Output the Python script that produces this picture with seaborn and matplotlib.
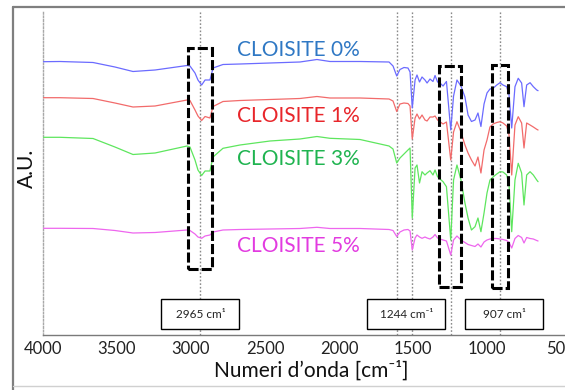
import matplotlib
matplotlib.use("Agg")
import matplotlib.pyplot as plt
import matplotlib.patches as mpatches
import matplotlib.lines as mlines
from matplotlib.ticker import MultipleLocator, FixedLocator
import numpy as np
import pandas as pd
import seaborn as sns

# ---------------- data ----------------
wavenumber = [4000, 3885, 3662, 3514, 3392, 3243, 3027, 3007, 2973, 2953,
              2928, 2905, 2872, 2851, 2784, 2669, 2466, 2264, 2149, 2061,
              1858, 1662, 1635, 1610, 1588, 1561, 1534, 1520, 1505, 1486,
              1473, 1456, 1439, 1419, 1405, 1385, 1365, 1351, 1334, 1318,
              1297, 1274, 1245, 1226, 1203, 1176, 1149, 1128, 1105, 1081,
              1061, 1041, 1020, 1000, 980, 959, 934, 912, 892, 867,
              851, 833, 811, 789, 766, 750, 732, 709, 687, 664, 655]

cloisite_0 = [27.33, 27.35, 27.25, 26.8, 26.35, 26.5, 26.95, 26.9, 26.2, 25.5,
              25.0, 25.5, 25.5, 26.7, 27.05, 27.1, 27.2, 27.3, 27.55, 27.35,
              27.35, 27.3, 26.9, 25.9, 26.55, 26.75, 26.7, 26.3, 22.7, 25.5,
              26.0, 25.3, 25.8, 25.5, 25.2, 25.6, 25.35, 25.95, 25.3, 25.2,
              24.9, 25.35, 20.5, 23.9, 25.5, 24.9, 23.8, 22.0, 21.35, 21.5,
              22.2, 20.85, 23.1, 24.2, 24.6, 24.67, 25.0, 25.23, 25.0, 24.83,
              24.0, 20.7, 24.83, 25.67, 25.2, 22.83, 25.0, 25.23, 24.83, 24.5, 24.43]

cloisite_1 = [23.73, 23.73, 23.65, 23.2, 22.8, 22.9, 23.5, 23.45, 22.5, 21.9,
              21.45, 21.85, 21.7, 22.85, 23.35, 23.45, 23.55, 23.65, 23.85, 23.7,
              23.7, 23.6, 23.4, 22.35, 23.1, 23.2, 23.15, 22.9, 19.6, 21.7,
              22.1, 21.6, 22.0, 21.5, 21.4, 21.8, 21.8, 21.9, 21.5, 21.33,
              21.1, 21.3, 17.5, 20.3, 21.33, 20.3, 19.0, 18.2, 17.5, 16.9,
              17.8, 16.2, 18.5, 19.5, 20.8, 21.1, 21.25, 21.33, 21.2, 20.9,
              20.0, 16.0, 21.0, 21.83, 21.2, 18.7, 21.2, 21.0, 20.8, 20.57, 20.5]

cloisite_3 = [19.77, 19.77, 19.65, 18.8, 18.05, 18.2, 18.9, 18.8, 17.5, 16.5,
              15.95, 16.4, 16.4, 17.8, 18.67, 19.0, 19.4, 19.6, 19.85, 19.67,
              19.55, 18.9, 18.6, 17.2, 17.7, 18.1, 18.5, 18.7, 11.7, 16.7,
              17.0, 15.2, 16.33, 16.0, 16.2, 16.43, 16.0, 16.5, 15.83, 15.6,
              15.33, 14.83, 9.5, 15.5, 17.0, 15.5, 13.2, 11.7, 10.5, 10.83,
              11.7, 10.33, 12.2, 14.2, 15.5, 15.8, 16.1, 16.33, 16.3, 16.0,
              15.0, 10.33, 15.5, 17.17, 16.2, 13.0, 16.0, 16.33, 16.0, 15.5, 15.33]

cloisite_5 = [10.67, 10.67, 10.65, 10.45, 10.2, 10.25, 10.5, 10.45, 10.1, 9.8,
              9.67, 9.9, 10.0, 10.3, 10.5, 10.55, 10.6, 10.65, 10.77, 10.65,
              10.65, 10.55, 10.45, 9.85, 10.3, 10.5, 10.55, 10.4, 8.5, 9.7,
              10.0, 9.8, 9.67, 9.8, 9.7, 9.6, 9.8, 10.05, 9.7, 9.6,
              9.5, 9.4, 8.0, 9.5, 9.9, 9.5, 9.25, 9.05, 8.95, 8.85,
              9.1, 8.8, 9.3, 9.5, 9.6, 9.65, 9.65, 9.6, 9.55, 9.45,
              9.25, 8.7, 9.65, 9.95, 9.75, 9.2, 9.75, 9.65, 9.6, 9.45, 9.4]

series_names = ["CLOISITE 0%", "CLOISITE 1%", "CLOISITE 3%", "CLOISITE 5%"]
line_colors = ["#6b6bff", "#f26b6b", "#5ee65e", "#ee66ee"]
label_colors = ["#2f78c4", "#e8262b", "#1fb450", "#e23be0"]
label_y = [28.5, 21.9, 17.6, 8.9]

x_ticks = [4000, 3500, 3000, 2500, 2000, 1500, 1000, 500]
ref_lines = [2939, 1610, 1505, 1245, 912]
# dashed highlight boxes: (wn_left, wn_right, au_bottom, au_top)
hl_boxes = [(3020, 2858, 6.6, 28.7), (1322, 1176, 4.77, 26.9), (968, 856, 4.7, 27.0)]
peak_labels = ["2965 cm\u00b9", "1244 cm\u207b\u00b9", "907 cm\u00b9"]
peak_label_x = [2936, 1544, 885]

# ---------------- figure ----------------
sns.set_theme(style="white")
plt.rcParams["font.family"] = ["Lato", "DejaVu Sans"]

W, H = 565, 390
fig = plt.figure(figsize=(W / 100, H / 100), dpi=100)
ax_l, ax_r, ax_t, ax_b = 43, 568.4, 10, 335
ax = fig.add_axes([ax_l / W, 1 - ax_b / H, (ax_r - ax_l) / W, (ax_b - ax_t) / H])

df = pd.concat([
    pd.DataFrame({"wn": wavenumber, "au": vals, "series": name})
    for name, vals in zip(series_names, [cloisite_0, cloisite_1, cloisite_3, cloisite_5])
])
sns.lineplot(data=df, x="wn", y="au", hue="series", palette=line_colors,
             sort=False, estimator=None, linewidth=0.9, legend=False, ax=ax, zorder=3)

ax.set_xlim(4000, 450)
ax.set_ylim(0, 32.5)

# reference dotted lines
for v in ref_lines:
    ax.axvline(v, color="#8a8a8a", lw=1.0, ls=(0, (1.2, 1.4)), zorder=2)

# dashed highlight boxes
for (x0, x1, y0, y1) in hl_boxes:
    ax.add_patch(mpatches.Rectangle((x0, y0), x1 - x0, y1 - y0, fill=False,
                                    edgecolor="black", lw=2.2,
                                    ls=(0, (3.3, 1.0)), zorder=4))

# peak label boxes
for txt, xc in zip(peak_labels, peak_label_x):
    w = 527
    ax.add_patch(mpatches.Rectangle((xc + w / 2, 0.6), -w, 2.97, facecolor="white",
                                    edgecolor="black", lw=1.0, zorder=5))
    ax.text(xc, 2.08, txt, ha="center", va="center", fontsize=8.5,
            color="#222222", zorder=6)

# series labels
for name, c, yv in zip(series_names, label_colors, label_y):
    ax.text(1860, yv, name, ha="right", va="center", fontsize=15, color=c, zorder=6)

# axes styling
for s in ["top", "right"]:
    ax.spines[s].set_visible(False)
ax.spines["left"].set_color("#a8a8a8")
ax.spines["left"].set_linewidth(1.0)
ax.spines["left"].set_linestyle((0, (1.2, 1.4)))
ax.spines["bottom"].set_color("#7a7a7a")
ax.spines["bottom"].set_linewidth(1.0)

ax.xaxis.set_major_locator(FixedLocator(x_ticks))
ax.set_xticklabels([str(t) for t in x_ticks])
ax.xaxis.set_minor_locator(MultipleLocator(100))
ax.tick_params(axis="x", which="both", direction="in", length=2.5, width=0.8,
               color="#7a7a7a", labelsize=12, pad=4, labelcolor="#222222")
ax.yaxis.set_major_locator(FixedLocator([0.9 + 3.25 * k for k in range(10)]))
ax.tick_params(axis="y", which="both", direction="in", length=2.5, width=0.6,
               color="#a8a8a8", labelleft=False)
ax.set_xlabel("")
ax.set_ylabel("")

fig.text(311 / W, 1 - 371 / H, "Numeri d\u2019onda [cm\u207b\u00b9]", ha="center",
         va="center", fontsize=15, color="#111111")
fig.text(27 / W, 1 - 168 / H, "A.U.", rotation=90, ha="center", va="center",
         fontsize=15, color="#111111")

# outer frame of the picture
fig.add_artist(mlines.Line2D([13 / W, 13 / W], [1 - 7 / H, 0], transform=fig.transFigure,
                             color="#7f7f7f", lw=1.6))
fig.add_artist(mlines.Line2D([13 / W, 1], [1 - 7 / H, 1 - 7 / H], transform=fig.transFigure,
                             color="#7f7f7f", lw=1.6))
fig.add_artist(mlines.Line2D([13 / W, 1], [1 - 386 / H, 1 - 386 / H], transform=fig.transFigure,
                             color="#d0d0d0", lw=1.0))

fig.savefig("out.png", dpi=100)
